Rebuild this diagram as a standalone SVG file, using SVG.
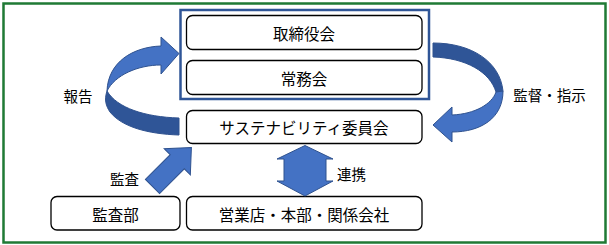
<svg xmlns="http://www.w3.org/2000/svg" width="609" height="245" viewBox="0 0 609 245">
<style>
.box{fill:#fff;stroke:#000;stroke-width:1.3}
.t{font-family:"Noto Sans CJK JP","Noto Sans",sans-serif;font-size:15.5px;fill:#000;text-anchor:middle;dominant-baseline:central}
.l{font-family:"Noto Sans CJK JP","Noto Sans",sans-serif;font-size:14.5px;fill:#000;text-anchor:middle;dominant-baseline:central}
.lt{fill:#4472c4;stroke:#2f528f;stroke-width:1}
.dk{fill:#2f5597;stroke:#2f528f;stroke-width:1}
</style>
<rect x="0" y="0" width="609" height="245" fill="#fff"/>
<rect x="3.5" y="3.5" width="602" height="239" fill="none" stroke="#1f7a35" stroke-width="2.5"/>
<g id="board-group">
<rect x="180.5" y="10" width="248.5" height="89" fill="none" stroke="#2f5597" stroke-width="2.5"/>
</g>
<g id="torishimariyakukai">
<rect class="box" x="186.5" y="15.5" width="235.5" height="34" rx="6"/>
<text class="t" x="304" y="32.5">取締役会</text>
</g>
<g id="jomukai">
<rect class="box" x="186.5" y="60.5" width="235.5" height="34" rx="6"/>
<text class="t" x="304" y="77.5">常務会</text>
</g>
<g id="sustainability">
<rect class="box" x="186.5" y="110.5" width="235.5" height="33" rx="6"/>
<text class="t" x="304" y="127">サステナビリティ委員会</text>
</g>
<g id="kansabu">
<rect class="box" x="51" y="196.5" width="129" height="33.5" rx="6"/>
<text class="t" x="115.5" y="213.5">監査部</text>
</g>
<g id="eigyoten">
<rect class="box" x="186.5" y="196.5" width="235.5" height="33.5" rx="6"/>
<text class="t" x="304" y="213.5">営業店・本部・関係会社</text>
</g>
<g id="connectors">
<!-- report arrow (left, curved) -->
<path class="dk" d="M179,118 C145,117 117,108 107,91 C104,100 106,106 110,112 C122,127 148,134 179,135 Z"/>
<path class="lt" d="M107,91 C108,62 133,47 161,46 L161,37 L179,53.5 L161,74 L161,65 C138,65 115,75 107,91 Z"/>
<!-- supervision arrow (right, curved) -->
<path class="dk" d="M433,43 C472,43 500,62 503,91 C500,96 499,95 496,92 C490,72 466,58 433,57 Z"/>
<path class="lt" d="M503,91 C503,118 481,132 452,132 L452,142 L433,125 L452,107 L452,115 C475,114 492,104 496,92 Z"/>
<!-- audit arrow -->
<path class="lt" transform="translate(152.5,186.5) rotate(-45)" d="M0,-10 L35,-10 L35,-18.5 L55,0 L35,18.5 L35,10 L0,10 Z"/>
<!-- cooperation double arrow -->
<path class="lt" d="M305,145.5 L333,159 L326,159 L326,181 L333,181 L305,196 L277,181 L284,181 L284,159 L277,159 Z"/>
</g>
<g id="labels">
<text class="l" x="78" y="95">報告</text>
<text class="l" x="549.5" y="94">監督・指示</text>
<text class="l" x="124.5" y="178.5">監査</text>
<text class="l" x="351.5" y="173">連携</text>
</g>
</svg>
